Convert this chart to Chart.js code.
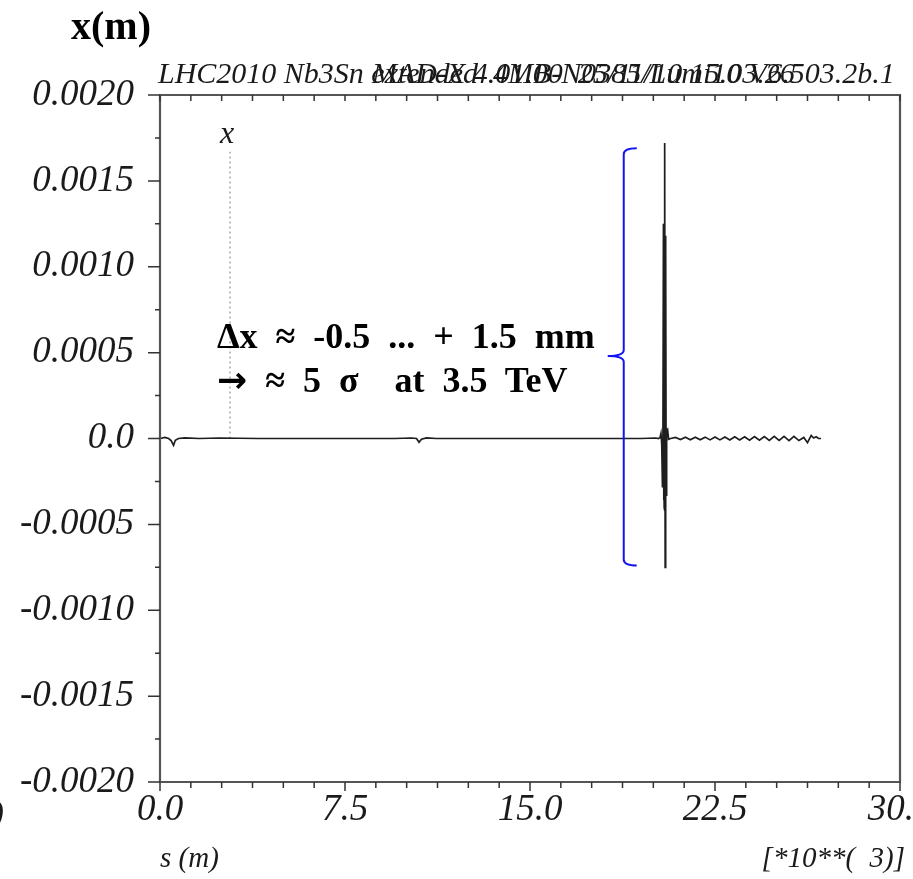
<!DOCTYPE html>
<html lang="en">
  <head>
    <meta charset="UTF-8" />
    <title>x(m) orbit</title>
    <script src="https://cdn.jsdelivr.net/npm/chart.js"></script>
    <style>
      body {
        margin: 0;
        width: 913px;
        height: 879px;
        overflow: hidden;
        background: #fff;
        position: relative;
        font-family: "Liberation Serif", serif;
        color: #1a1a1a;
      }
      #wrap {
        position: absolute;
        left: 0;
        top: 0;
        width: 960px;
        height: 879px;
      }
      .txt {
        position: absolute;
        white-space: pre;
        line-height: 1;
      }
      .it {
        font-style: italic;
      }
      .note {
        font-weight: bold;
        font-size: 36px;
        word-spacing: 9px;
        color: #000;
      }
    </style>
  </head>
  <body>
    <div id="wrap"><canvas id="orbit"></canvas></div>

    <div class="txt" style="left:71px;top:6px;font-weight:bold;font-size:40px;color:#000">x(m)</div>
    <div class="txt it" style="left:158px;top:58px;font-size:30px">LHC2010 Nb3Sn extended  4MB-N0385/Lumi10 V6.503.2b.1</div>
    <div class="txt it" style="left:372px;top:58px;font-size:30px">MAD-X 4.01.00  25/11/10 15.03.26</div>
    <div class="txt it" style="left:220px;top:116px;font-size:32px">x</div>
    <div class="txt note" style="left:217px;top:318px">Δx ≈ -0.5 ... + 1.5 mm</div>
    <div class="txt note" style="left:217px;top:362px"><span style="font-family:'DejaVu Sans'">→</span> ≈ 5 σ  at 3.5 TeV</div>
    <div class="txt it" style="left:160px;top:843px;font-size:29px">s (m)</div>
    <div class="txt it" style="right:8px;top:843px;font-size:29px">[*10**(  3)]</div>
    <div class="txt it" style="left:-8px;top:794px;font-size:36px">)</div>

    <script>
      // s in km (axis shows *10**3 m), x in m
      const sVals = [
        0.0, 0.2, 0.35, 0.45, 0.55, 0.62, 0.75, 1.0, 1.6, 2.4, 4.0, 7.0, 9.5,
        10.2, 10.4, 10.5, 10.6, 10.8, 11.2, 14.0, 17.0, 19.5, 20.1, 20.2,
        20.27, 20.31, 20.34, 20.37, 20.39, 20.41, 20.42, 20.43, 20.44, 20.45,
        20.46, 20.47, 20.48, 20.49, 20.5, 20.51, 20.52, 20.53, 20.55, 20.58,
        20.62, 20.7, 20.9, 21.1, 21.3, 21.5, 21.7, 21.9, 22.1, 22.3, 22.5,
        22.7, 22.9, 23.1, 23.3, 23.5, 23.7, 23.9, 24.1, 24.3, 24.5, 24.7, 24.9,
        25.1, 25.3, 25.5, 25.7, 25.9, 26.1, 26.25, 26.4, 26.5, 26.6, 26.7, 26.8,
      ];
      const xVals = [
        0.0, 0.000006, 0.0, -0.000012, -0.00004, -0.00001, 0.0, 0.000004, 0.0,
        0.000003, 0.0, 0.0, 0.0, 0.000003, 0.0, -0.000022, -0.000004, 0.000004,
        0.0, 0.0, 0.0, 0.0, 0.000003, 0.0, 0.000005, 0.00003, -0.00003,
        -0.00028, 0.00002, 0.00125, -0.00036, 0.00122, -0.0004, 0.0012,
        -0.00042, 0.00172, -0.00075, 0.00118, -0.00038, 0.00112, -0.00033,
        0.00006, 0.00004, 0.00005, -0.000005, 0.0, 0.000006, -0.000006,
        0.000007, -0.000007, 0.000008, -0.000007, 0.000008, -0.000008,
        0.000009, -0.000008, 0.000009, -0.000009, 0.00001, -0.000009, 0.00001,
        -0.00001, 0.000011, -0.00001, 0.000011, -0.000011, 0.000012, -0.000011,
        0.000012, -0.000012, 0.000013, -0.000012, 0.000006, -0.000024,
        0.000018, 0.000003, 0.00001, 0.0, 0.0,
      ];

      // dotted "x" label marker
      const markerS = [2.84, 2.84];
      const markerX = [0.0, 0.00167];

      // axis ticks
      const xMajor = [0, 7.5, 15, 22.5, 30];
      const xLabels = ["0.0", "7.5", "15.0", "22.5", "30.0"];
      const xStep = 1.25;
      const yMajor = [-0.002, -0.0015, -0.001, -0.0005, 0, 0.0005, 0.001, 0.0015, 0.002];
      const yLabels = ["-0.0020", "-0.0015", "-0.0010", "-0.0005", "0.0", "0.0005", "0.0010", "0.0015", "0.0020"];
      const yStep = 0.00025;

      // bracket annotation (s, top, tip, bottom)
      const bracket = { s: 18.8, top: 0.00169, tip: 0.00048, bottom: -0.00074 };

      function stepTicks(min, max, step) {
        const out = [];
        const n = Math.round((max - min) / step);
        for (let i = 0; i <= n; i++) out.push({ value: min + i * step });
        return out;
      }
      function labelFor(v, majors, labels) {
        const i = majors.findIndex((m) => Math.abs(m - v) < 1e-9);
        return i >= 0 ? labels[i] : "";
      }

      const tickFont = { family: "Liberation Serif", size: 37, style: "italic" };

      const framePlugin = {
        id: "frame",
        afterDraw(chart) {
          const { ctx, chartArea: a, scales } = chart;
          const xs = scales.x, ys = scales.y;
          ctx.save();
          ctx.strokeStyle = "#555";
          ctx.lineWidth = 2.2;
          ctx.beginPath();
          ctx.rect(a.left, a.top, a.right - a.left, a.bottom - a.top);
          ctx.stroke();
          ctx.lineWidth = 1.5;
          ctx.strokeStyle = "#333";
          ctx.beginPath();
          xs.ticks.forEach((t) => {
            const px = xs.getPixelForValue(t.value);
            const major = labelFor(t.value, xMajor, xLabels) !== "";
            ctx.moveTo(px, a.bottom);
            ctx.lineTo(px, a.bottom + (major ? 9 : 6));
            ctx.moveTo(px, a.top);
            ctx.lineTo(px, a.top + 6);
          });
          ys.ticks.forEach((t) => {
            const py = ys.getPixelForValue(t.value);
            const major = labelFor(t.value, yMajor, yLabels) !== "";
            ctx.moveTo(a.left, py);
            ctx.lineTo(a.left - (major ? 12 : 5), py);
          });
          ctx.stroke();

          // blue bracket
          const bx = xs.getPixelForValue(bracket.s);
          const bt = ys.getPixelForValue(bracket.top);
          const bm = ys.getPixelForValue(bracket.tip);
          const bb = ys.getPixelForValue(bracket.bottom);
          ctx.strokeStyle = "#1414f0";
          ctx.lineWidth = 2;
          ctx.beginPath();
          ctx.moveTo(bx + 13, bt);
          ctx.quadraticCurveTo(bx, bt, bx, bt + 6);
          ctx.lineTo(bx, bm - 6);
          ctx.quadraticCurveTo(bx, bm, bx - 16, bm);
          ctx.quadraticCurveTo(bx, bm, bx, bm + 6);
          ctx.lineTo(bx, bb - 6);
          ctx.quadraticCurveTo(bx, bb, bx + 13, bb);
          ctx.stroke();
          ctx.restore();
        },
      };

      new Chart(document.getElementById("orbit"), {
        type: "line",
        data: {
          datasets: [
            {
              label: "x",
              data: sVals.map((s, i) => ({ x: s, y: xVals[i] })),
              borderColor: "#1e1e1e",
              borderWidth: 1.7,
              pointRadius: 0,
              tension: 0,
            },
            {
              label: "marker",
              data: markerS.map((s, i) => ({ x: s, y: markerX[i] })),
              borderColor: "#a8a8a8",
              borderWidth: 1.5,
              borderDash: [2, 3],
              pointRadius: 0,
            },
          ],
        },
        options: {
          responsive: true,
          maintainAspectRatio: false,
          animation: false,
          layout: { padding: { top: 95, right: 60, bottom: 0, left: 0 } },
          plugins: { legend: { display: false }, tooltip: { enabled: false } },
          scales: {
            x: {
              type: "linear",
              min: 0,
              max: 30,
              afterBuildTicks: (s) => { s.ticks = stepTicks(0, 30, xStep); },
              afterFit: (s) => { s.height = 97; },
              grid: { display: false, drawTicks: false },
              border: { display: false },
              ticks: {
                autoSkip: false,
                maxRotation: 0,
                padding: 6,
                color: "#1a1a1a",
                font: tickFont,
                callback: (v) => labelFor(v, xMajor, xLabels),
              },
            },
            y: {
              type: "linear",
              min: -0.002,
              max: 0.002,
              afterBuildTicks: (s) => { s.ticks = stepTicks(-0.002, 0.002, yStep); },
              afterFit: (s) => { s.width = 160; },
              grid: { display: false, drawTicks: false },
              border: { display: false },
              ticks: {
                autoSkip: false,
                padding: 26,
                color: "#1a1a1a",
                font: tickFont,
                callback: (v) => labelFor(v, yMajor, yLabels),
              },
            },
          },
        },
        plugins: [framePlugin],
      });
    </script>
  </body>
</html>
